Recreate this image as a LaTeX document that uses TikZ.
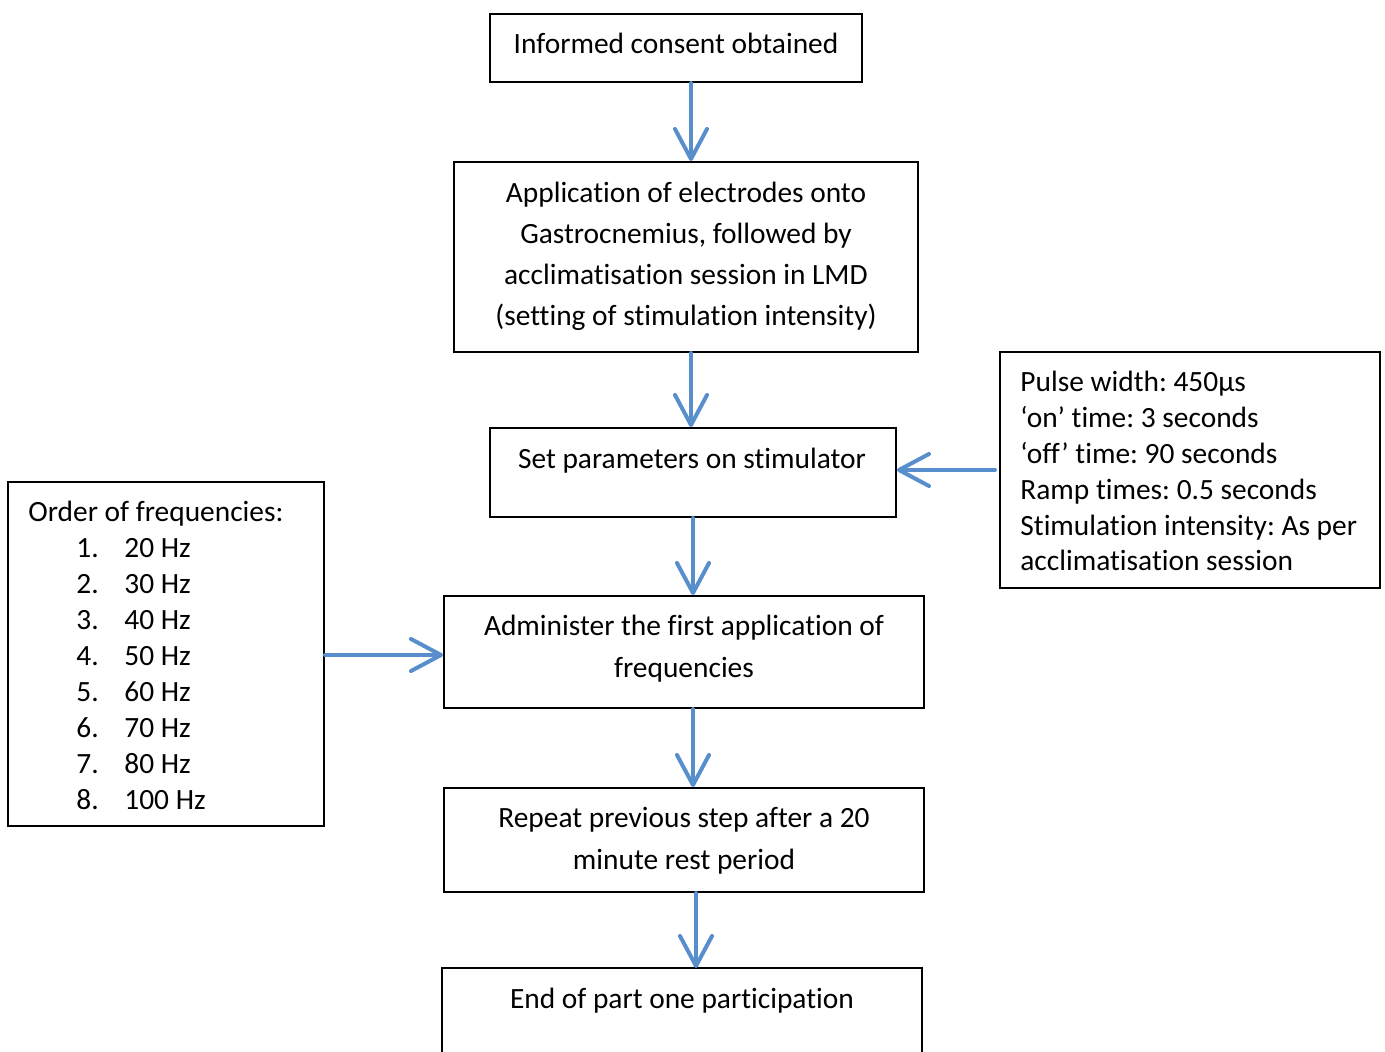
\documentclass[tikz,border=0pt]{standalone}
\usepackage{fontspec}
\setmainfont{Carlito}[Ligatures=CommonOff]
\frenchspacing
\usetikzlibrary{arrows.meta,fit}
\definecolor{arrowblue}{RGB}{88,142,203}
\begin{document}
\begin{tikzpicture}[x=0.5pt,y=-0.5pt,
  box/.style={draw=black,line width=1pt,inner sep=0pt,rectangle},
  txt/.style={inner sep=0pt,font=\fontsize{14.7}{20.6}\selectfont,align=center},
  ltxt/.style={inner sep=0pt,font=\fontsize{14.7}{17.9}\selectfont,align=left,anchor=base west},
  arr/.style={draw=arrowblue,line width=2pt,line cap=round,
    -{Straight Barb[length=15pt,width=16pt,line width=2pt,round]}}]
\useasboundingbox (0,0) rectangle (1385,1052);
% boxes
\node[box,fit={(490,14) (862,82)}] (b1) {};
\node[box,fit={(454,162) (918,352)}] (b2) {};
\node[box,fit={(490,428) (896,517)}] (b3) {};
\node[box,fit={(444,596) (924,708)}] (b4) {};
\node[box,fit={(444,788) (924,892)}] (b5) {};
\draw[line width=1pt] (442,1060) -- (442,968) -- (922,968) -- (922,1060);
\coordinate (b6n) at (682,968);
\node[box,fit={(1000,352) (1380,588)}] (rb) {};
\node[box,fit={(8,482) (324,826)}] (lb) {};
% texts (base anchor = baseline of last line)
\node[txt,anchor=base] (t1) at (676,54) {Informed consent obtained};
\node[txt,anchor=base] (t2) at (686,326) {Application of electrodes onto\\Gastrocnemius, followed by\\acclimatisation session in LMD\\(setting of stimulation intensity)};
\node[txt,anchor=base] (t3) at (692,469) {Set parameters on stimulator};
\node[txt,anchor=base] (t4) at (684,677) {Administer the first application of\\frequencies};
\node[txt,anchor=base] (t5) at (684,869) {Repeat previous step after a 20\\minute rest period};
\node[txt,anchor=base] (t6) at (682,1008) {End of part one participation};
\node[ltxt] (tr) at (1020,571) {Pulse width: 450µs\\‘on’ time: 3 seconds\\‘off’ time: 90 seconds\\Ramp times: 0.5 seconds\\Stimulation intensity: As per\\acclimatisation session};
\node[ltxt] (tl) at (28,522) {Order of frequencies:};
\foreach \n/\f [count=\i] in {1/20,2/30,3/40,4/50,5/60,6/70,7/80,8/100}{
  \node[ltxt] (n\i) at (76,522+35.9*\i) {\n.};
  \node[ltxt] (f\i) at (124,522+35.9*\i) {\f\ Hz};
}
% arrows
\coordinate (x1) at (691,0);
\coordinate (x3) at (693,0);
\coordinate (x5) at (696,0);
\coordinate (y1) at (0,470);
\coordinate (y2) at (0,655);
\draw[arr] (b1.south -| x1) -- (b2.north -| x1);
\draw[arr] (b2.south -| x1) -- (b3.north -| x1);
\draw[arr] (b3.south -| x3) -- (b4.north -| x3);
\draw[arr] (b4.south -| x3) -- (b5.north -| x3);
\draw[arr] (b5.south -| x5) -- (b6n -| x5);
\draw[arr] ([xshift=-2pt]rb.west |- y1) -- (b3.east |- y1);
\draw[arr] (lb.east |- y2) -- (b4.west |- y2);
\end{tikzpicture}
\end{document}
